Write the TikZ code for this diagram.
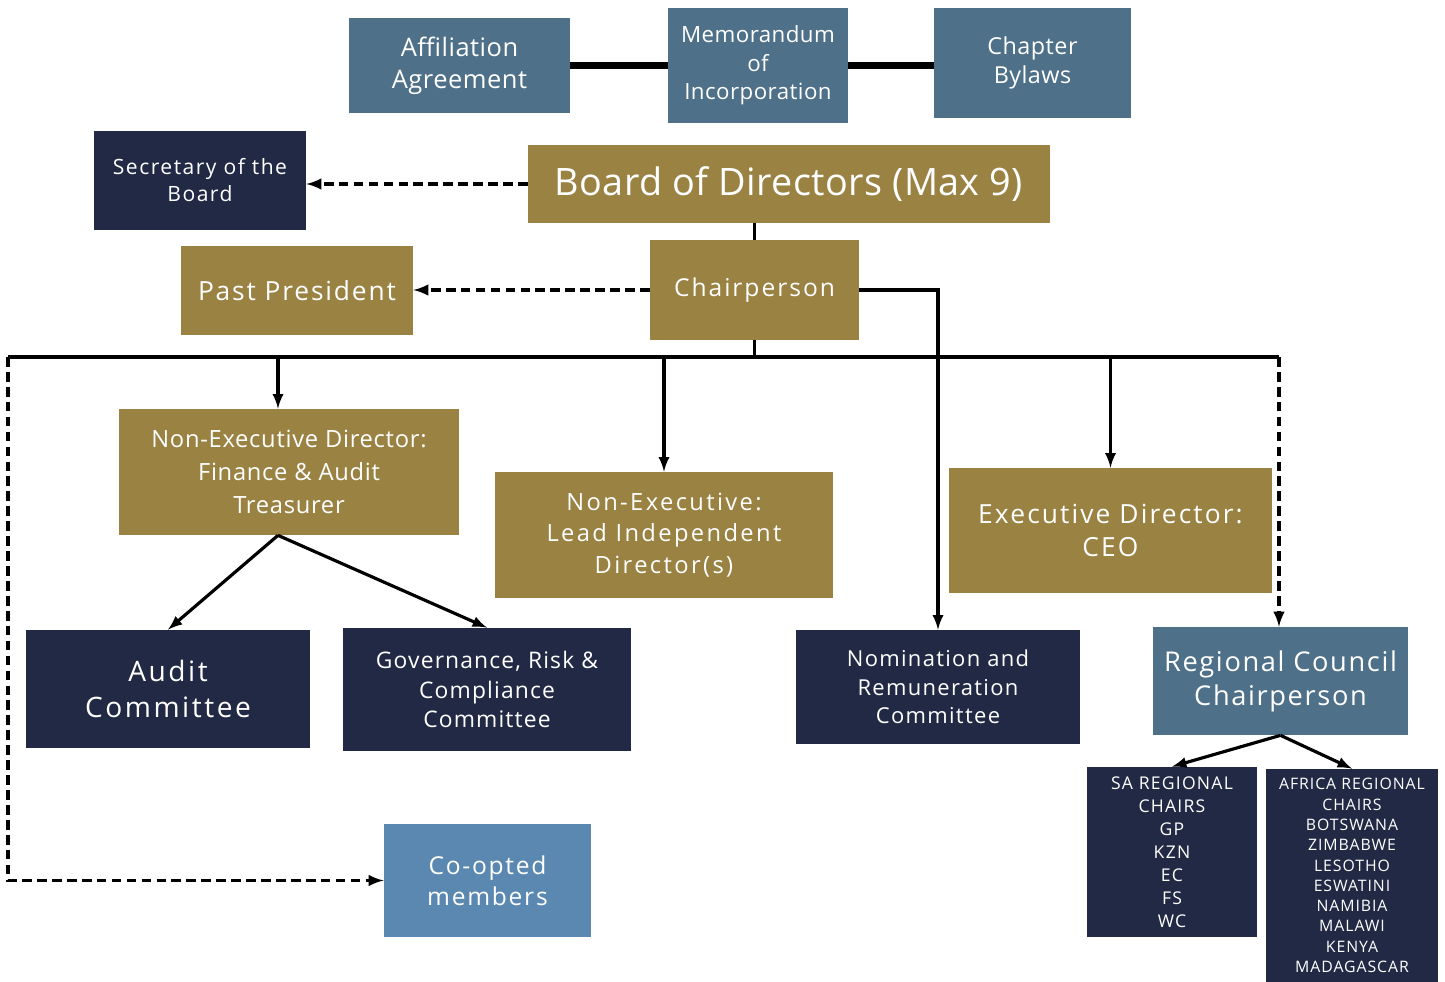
\documentclass[tikz,border=0pt]{standalone}
\usepackage{fontspec}
\setmainfont{Open Sans}
\usetikzlibrary{calc, positioning, arrows}
\definecolor{steel}{HTML}{4E7089}
\definecolor{gold}{HTML}{9A8243}
\definecolor{navy}{HTML}{222944}
\definecolor{sky}{HTML}{5B88B0}
% size, baselineskip, letter spacing
\newcommand\boxfont[3]{\fontsize{#1}{#2}\selectfont\addfontfeature{LetterSpace=#3}}
% colour, name, centre, width, height (in px), font, text
\newcommand\orgblock[7]{\node[orgbox=#1, minimum width={#4*0.02cm}, minimum height={#5*0.02cm}, font={#6}] (#2) at (#3) {#7};}
\tikzset{
  orgbox/.style={rectangle, fill=#1, text=white, align=center, inner sep=0pt},
  link/.style={line width=1.8pt},
  dlink/.style={line width=1.9pt, dash pattern=on 5.5pt off 3pt},
}

\begin{document}
\begin{tikzpicture}[x=0.02cm, y=-0.02cm, >=latex]
\useasboundingbox (0,0) rectangle (1445,982);

% founding documents
\orgblock{steel}{aff}{459.5,65.5}{221}{95}{\boxfont{14.5}{18.2}{2}}{Affiliation\\Agreement}
\orgblock{steel}{moi}{758,65.5}{180}{115}{\boxfont{12.7}{16.2}{2}}{Memorandum\\of\\Incorporation}
\orgblock{steel}{byl}{1032.5,63}{197}{110}{\boxfont{13.3}{16.5}{2}}{Chapter\\Bylaws}

% board
\orgblock{navy}{sec}{200,180.5}{212}{99}{\boxfont{12}{15.4}{7}}{Secretary of the\\Board}
\orgblock{gold}{bod}{789,184}{522}{78}{\boxfont{21.5}{26}{1}}{Board of Directors (Max 9)}
\orgblock{gold}{chair}{754.5,290}{209}{100}{\boxfont{14}{18}{8}}{Chairperson}
\orgblock{gold}{past}{297,290.5}{232}{89}{\boxfont{15}{18}{7}}{Past President}

% directors
\orgblock{gold}{ned}{289,472}{340}{126}{\boxfont{13.5}{18.8}{3}}{Non-Executive Director:\\Finance \& Audit\\Treasurer}
\orgblock{gold}{lead}{664,535}{338}{126}{\boxfont{13.5}{17.9}{10}}{Non-Executive:\\Lead Independent\\Director(s)}
\orgblock{gold}{exec}{1110.5,530.5}{323}{125}{\boxfont{15}{19.3}{8}}{Executive Director:\\CEO}

% committees
\orgblock{navy}{audit}{168,689}{284}{118}{\boxfont{16}{20.5}{9}}{Audit\\Committee}
\orgblock{navy}{gov}{487,689.5}{288}{123}{\boxfont{13}{16.8}{5}}{Governance, Risk \&\\Compliance\\Committee}
\orgblock{navy}{nom}{938,687}{284}{114}{\boxfont{12.5}{16.2}{6}}{Nomination and\\Remuneration\\Committee}
\orgblock{steel}{reg}{1280.5,681}{255}{108}{\boxfont{15.5}{19.3}{6}}{Regional Council\\Chairperson}
\orgblock{sky}{coop}{487.5,880.5}{207}{113}{\boxfont{14}{17.6}{7}}{Co-opted\\members}

% regional chairs
\orgblock{navy}{sa}{1172,852}{170}{170}{\boxfont{10}{13.1}{7}}{SA REGIONAL\\CHAIRS\\GP\\KZN\\EC\\FS\\WC}
\orgblock{navy}{afr}{1352,875.5}{172}{213}{\boxfont{9}{11.55}{6}}{AFRICA REGIONAL\\CHAIRS\\BOTSWANA\\ZIMBABWE\\LESOTHO\\ESWATINI\\NAMIBIA\\MALAWI\\KENYA\\MADAGASCAR}

% links
\draw[line width=3.6pt] (aff) -- (moi);
\draw[line width=3.6pt] (moi.east) -- (moi.east -| byl.west);
\draw[dlink, ->] (bod.west) -- (bod.west -| sec.east);
\draw[link] (chair.north |- bod.south) -- (chair.north);
\draw[dlink, ->] (chair.west) -- (chair.west -| past.east);
\draw[link, ->] (chair.east) -| (nom.north);

% bus under the chairperson
\coordinate (busL) at (8,357);
\coordinate (busR) at (1279,357);
\coordinate (nedtop) at ([xshift=-0.22cm]ned.north);
\coordinate (nedbot) at ([xshift=-0.22cm]ned.south);
\draw[link] (chair.south) -- (chair.south |- busL);
\draw[link] (busL) -- (busR);
\draw[link, ->] (nedtop |- busL) -- (nedtop);
\draw[link, ->] (lead.north |- busL) -- (lead.north);
\draw[link, ->] (exec.north |- busL) -- (exec.north);
\draw[dlink, ->] (busR) -- (busR |- reg.north);
\draw[dlink, ->] (busL) |- (coop.west);

\draw[link, ->] (nedbot) -- (audit.north);
\draw[link, ->] (nedbot) -- (gov.north);
\draw[link, ->] (reg.south) -- (sa.north);
\draw[link, ->] (reg.south) -- (afr.north);

\end{tikzpicture}
\end{document}
